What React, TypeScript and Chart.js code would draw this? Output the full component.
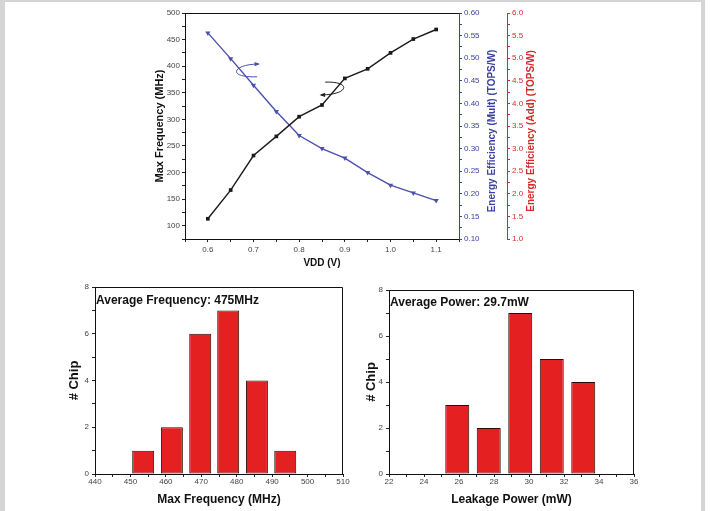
import React, { useEffect, useRef } from 'react';
import { Chart, registerables } from 'chart.js';

Chart.register(...registerables);

// ---------------- Data ----------------
const VDD = [0.6, 0.65, 0.7, 0.75, 0.8, 0.85, 0.9, 0.95, 1.0, 1.05, 1.1];
const MAX_FREQ = [113, 167, 232, 268, 305, 327, 377, 395, 425, 451, 469];
const EFF_MULT = [0.556, 0.499, 0.44, 0.382, 0.329, 0.3, 0.279, 0.247, 0.219, 0.202, 0.185];

const VDD_MAJORS = [0.6, 0.7, 0.8, 0.9, 1.0, 1.1];
const FREQ_MAJORS = [100, 150, 200, 250, 300, 350, 400, 450, 500];
const MULT_MAJORS = [0.1, 0.15, 0.2, 0.25, 0.3, 0.35, 0.4, 0.45, 0.5, 0.55, 0.6];
const ADD_MAJORS = [1.0, 1.5, 2.0, 2.5, 3.0, 3.5, 4.0, 4.5, 5.0, 5.5, 6.0];

const FREQ_BIN_CENTERS = [453.6, 461.7, 469.7, 477.6, 485.7, 493.7];
const FREQ_COUNTS = [1, 2, 6, 7, 4, 1];
const FREQ_BAR_WIDTH = 6.2;
const FREQ_X_MAJORS = [440, 450, 460, 470, 480, 490, 500, 510];

const POWER_BIN_CENTERS = [25.9, 27.7, 29.5, 31.3, 33.1];
const POWER_COUNTS = [3, 2, 7, 5, 4];
const POWER_BAR_WIDTH = 1.37;
const POWER_X_MAJORS = [22, 24, 26, 28, 30, 32, 34, 36];

const CHIP_Y_MAJORS = [0, 2, 4, 6, 8];

const FREQ_NOTE = 'Average Frequency: 475MHz';
const POWER_NOTE = 'Average Power: 29.7mW';

// decorative curly arrows (data units of the top chart: x = VDD, y = MHz)
const BLUE_ARROW = [[0.708, 380], [0.64, 378], [0.655, 404], [0.711, 404]];
const BLACK_ARROW = [[0.857, 370], [0.915, 372], [0.91, 346], [0.848, 346]];

// ---------------- Helpers ----------------
const FONT = '"Liberation Sans", Arial, Helvetica, sans-serif';
const TICK_COLOR = '#444';
const BLUE = '#3d42a0';
const BLUE_LINE = '#4b50ad';
const RED = '#d42a2a';

function withMinors(majors: number[], before = false, after = false) {
  const step = majors[1] - majors[0];
  const out: number[] = [];
  if (before) out.push(majors[0] - step / 2);
  majors.forEach((v, i) => {
    out.push(v);
    if (i < majors.length - 1) out.push(v + step / 2);
  });
  if (after) out.push(majors[majors.length - 1] + step / 2);
  return out.map((v) => Math.round(v * 1e6) / 1e6);
}
const isMajor = (majors: number[], v: number) => majors.some((m) => Math.abs(m - v) < 1e-6);
const fixedTicks = (values: number[]) => (scale: any) => {
  scale.ticks = values.map((v) => ({ value: v }));
};

const tickFont = (size = 8) => ({ family: FONT, size });
const boldFont = (size: number) => ({ family: FONT, size, weight: 'bold' as const });

// ---------------- Plugins ----------------
const topDecor = {
  id: 'topDecor',
  afterDraw(chart: any) {
    const { ctx, chartArea } = chart;
    const { left, right, top } = chartArea;
    const sx = chart.scales.x;
    const sy = chart.scales.y;
    ctx.save();
    // top frame line
    ctx.strokeStyle = '#111';
    ctx.lineWidth = 1;
    ctx.beginPath();
    ctx.moveTo(left, top + 0.5);
    ctx.lineTo(right, top + 0.5);
    ctx.stroke();

    // curly arrows
    const drawArrow = (pts: number[][], color: string) => {
      const p = pts.map(([x, y]) => [sx.getPixelForValue(x), sy.getPixelForValue(y)]);
      ctx.strokeStyle = color;
      ctx.fillStyle = color;
      ctx.lineWidth = 1;
      ctx.beginPath();
      ctx.moveTo(p[0][0], p[0][1]);
      ctx.bezierCurveTo(p[1][0], p[1][1], p[2][0], p[2][1], p[3][0], p[3][1]);
      ctx.stroke();
      const ang = Math.atan2(p[3][1] - p[2][1], p[3][0] - p[2][0]);
      const L = 4.5;
      ctx.beginPath();
      ctx.moveTo(p[3][0] + Math.cos(ang) * 1.5, p[3][1] + Math.sin(ang) * 1.5);
      ctx.lineTo(p[3][0] - Math.cos(ang - 0.5) * L, p[3][1] - Math.sin(ang - 0.5) * L);
      ctx.lineTo(p[3][0] - Math.cos(ang + 0.5) * L, p[3][1] - Math.sin(ang + 0.5) * L);
      ctx.closePath();
      ctx.fill();
    };
    drawArrow(BLUE_ARROW, BLUE_LINE);
    drawArrow(BLACK_ARROW, '#222');

    // right-axis titles reading bottom-to-top
    const midY = (chartArea.top + chartArea.bottom) / 2 + 5;
    const drawTitle = (text: string, x: number, color: string) => {
      ctx.save();
      ctx.translate(x, midY);
      ctx.rotate(-Math.PI / 2);
      ctx.fillStyle = color;
      ctx.font = `bold 10px ${FONT}`;
      ctx.textAlign = 'center';
      ctx.textBaseline = 'middle';
      ctx.fillText(text, 0, 0);
      ctx.restore();
    };
    drawTitle('Energy Efficiency (Mult) (TOPS/W)', chart.scales.y1.left + 33.3, BLUE);
    drawTitle('Energy Efficiency (Add) (TOPS/W)', chart.scales.y2.left + 24.7, RED);
    ctx.restore();
  },
};

const histDecor = {
  id: 'histDecor',
  afterDraw(chart: any, _args: any, opts: any) {
    const { ctx, chartArea } = chart;
    const { left, right, top, bottom } = chartArea;
    ctx.save();
    ctx.strokeStyle = '#111';
    ctx.lineWidth = 1;
    ctx.beginPath();
    ctx.moveTo(left, top + 0.5);
    ctx.lineTo(right - 0.5, top + 0.5);
    ctx.lineTo(right - 0.5, bottom);
    ctx.stroke();
    ctx.fillStyle = '#111';
    ctx.font = `bold 12px ${FONT}`;
    ctx.textAlign = 'left';
    ctx.textBaseline = 'middle';
    ctx.fillText(opts.text, left + 1, top + opts.dy);
    ctx.restore();
  },
};

// ---------------- Configs ----------------
function topConfig(): any {
  return {
    type: 'line',
    data: {
      datasets: [
        {
          data: VDD.map((x, i) => ({ x, y: MAX_FREQ[i] })),
          xAxisID: 'x',
          yAxisID: 'y',
          borderColor: '#1a1a1a',
          backgroundColor: '#1a1a1a',
          borderWidth: 1.4,
          pointStyle: 'rect',
          pointRadius: 2.6,
          pointBorderWidth: 0,
        },
        {
          data: VDD.map((x, i) => ({ x, y: EFF_MULT[i] })),
          xAxisID: 'x',
          yAxisID: 'y1',
          borderColor: BLUE_LINE,
          backgroundColor: BLUE_LINE,
          borderWidth: 1.4,
          pointStyle: 'triangle',
          pointRotation: 180,
          pointRadius: 3,
          pointBorderWidth: 0,
        },
      ],
    },
    options: {
      animation: false,
      responsive: false,
      devicePixelRatio: 1,
      layout: { padding: { top: 13, left: 0, right: 0, bottom: 0 } },
      plugins: { legend: { display: false }, tooltip: { enabled: false } },
      scales: {
        x: {
          type: 'linear',
          min: 0.55,
          max: 1.15,
          afterBuildTicks: fixedTicks(withMinors(VDD_MAJORS, true, true)),
          afterFit: (s: any) => {
            s.height = 36;
          },
          ticks: {
            autoSkip: false,
            maxRotation: 0,
            padding: 3,
            color: TICK_COLOR,
            font: tickFont(8),
            callback: (v: number) => (isMajor(VDD_MAJORS, v) ? v.toFixed(1) : ''),
          },
          grid: { drawOnChartArea: false, tickLength: 3, color: '#222' },
          border: { color: '#111', width: 1 },
          title: {
            display: true,
            text: 'VDD (V)',
            color: '#111',
            font: boldFont(10),
            padding: { top: 0, bottom: 6 },
          },
        },
        y: {
          type: 'linear',
          position: 'left',
          min: 75,
          max: 500,
          afterBuildTicks: fixedTicks(withMinors(FREQ_MAJORS, true, false)),
          afterFit: (s: any) => {
            s.width = 37;
          },
          ticks: {
            autoSkip: false,
            padding: 2,
            color: TICK_COLOR,
            font: tickFont(8),
            callback: (v: number) => (isMajor(FREQ_MAJORS, v) ? String(v) : ''),
          },
          grid: { drawOnChartArea: false, tickLength: 3, color: '#222' },
          border: { color: '#111', width: 1 },
          title: {
            display: true,
            text: 'Max Frequency (MHz)',
            color: '#111',
            font: boldFont(11),
            padding: { top: 5, bottom: 0 },
          },
        },
        y1: {
          type: 'linear',
          position: 'right',
          weight: 0,
          min: 0.1,
          max: 0.6,
          afterBuildTicks: fixedTicks(withMinors(MULT_MAJORS)),
          afterFit: (s: any) => {
            s.width = 48;
          },
          ticks: {
            autoSkip: false,
            padding: 2,
            color: BLUE,
            font: tickFont(8),
            callback: (v: number) => (isMajor(MULT_MAJORS, v) ? v.toFixed(2) : ''),
          },
          grid: { drawOnChartArea: false, tickLength: 3, color: BLUE },
          border: { color: BLUE, width: 1 },
        },
        y2: {
          type: 'linear',
          position: 'right',
          weight: 1,
          display: true,
          min: 1,
          max: 6,
          afterBuildTicks: fixedTicks(withMinors(ADD_MAJORS)),
          afterFit: (s: any) => {
            s.width = 36;
          },
          ticks: {
            autoSkip: false,
            padding: 2,
            color: RED,
            font: tickFont(8),
            callback: (v: number) => (isMajor(ADD_MAJORS, v) ? v.toFixed(1) : ''),
          },
          grid: { drawOnChartArea: false, tickLength: 3, color: RED },
          border: { color: RED, width: 1 },
        },
      },
    },
    plugins: [topDecor],
  };
}

function histConfig(
  centers: number[],
  counts: number[],
  barWidth: number,
  xMajors: number[],
  xTitle: string,
  note: string,
  noteDy: number,
  padTop: number,
  yTitlePad: number,
): any {
  const xTicks = withMinors(xMajors);
  const minorStep = xTicks[1] - xTicks[0];
  return {
    type: 'bar',
    data: {
      datasets: [
        {
          data: centers.map((x, i) => ({ x, y: counts[i] })),
          backgroundColor: '#e52020',
          borderColor: '#2a0c0c',
          borderWidth: 1,
          borderSkipped: false,
          categoryPercentage: 1,
          barPercentage: barWidth / minorStep,
        },
      ],
    },
    options: {
      animation: false,
      responsive: false,
      devicePixelRatio: 1,
      layout: { padding: { top: padTop, left: 0, right: 8, bottom: 0 } },
      plugins: {
        legend: { display: false },
        tooltip: { enabled: false },
        histDecor: { text: note, dy: noteDy },
      },
      scales: {
        x: {
          type: 'linear',
          min: xMajors[0],
          max: xMajors[xMajors.length - 1],
          offset: false,
          afterBuildTicks: fixedTicks(xTicks),
          afterFit: (s: any) => {
            s.height = 37;
          },
          ticks: {
            autoSkip: false,
            maxRotation: 0,
            padding: 0,
            color: TICK_COLOR,
            font: tickFont(8),
            callback: (v: number) => (isMajor(xMajors, v) ? String(v) : ''),
          },
          grid: { offset: false, drawOnChartArea: false, tickLength: 3, color: '#222' },
          border: { color: '#111', width: 1 },
          title: {
            display: true,
            text: xTitle,
            color: '#111',
            font: boldFont(12),
            padding: { top: 0, bottom: 4 },
          },
        },
        y: {
          type: 'linear',
          min: 0,
          max: 8,
          afterBuildTicks: fixedTicks(withMinors(CHIP_Y_MAJORS)),
          afterFit: (s: any) => {
            s.width = 31;
          },
          ticks: {
            autoSkip: false,
            padding: 3,
            color: TICK_COLOR,
            font: tickFont(8),
            callback: (v: number) => (isMajor(CHIP_Y_MAJORS, v) ? String(v) : ''),
          },
          grid: { drawOnChartArea: false, tickLength: 3, color: '#222' },
          border: { color: '#111', width: 1 },
          title: {
            display: true,
            text: '# Chip',
            color: '#111',
            font: boldFont(13),
            padding: { top: yTitlePad, bottom: 0 },
          },
        },
      },
    },
    plugins: [histDecor],
  };
}

// ---------------- Components ----------------
function ChartBox({
  make,
  left,
  top,
  width,
  height,
}: {
  make: () => any;
  left: number;
  top: number;
  width: number;
  height: number;
}) {
  const ref = useRef<HTMLCanvasElement | null>(null);
  useEffect(() => {
    if (!ref.current) return;
    const chart = new Chart(ref.current, make());
    return () => chart.destroy();
  }, []);
  return (
    <canvas
      ref={ref}
      width={width}
      height={height}
      style={{ position: 'absolute', left, top, width, height, display: 'block' }}
    />
  );
}

export default function App() {
  return (
    <div
      style={{
        position: 'fixed',
        left: 0,
        top: 0,
        width: 710,
        height: 511,
        background: '#ffffff',
        overflow: 'hidden',
      }}
    >
      <div style={{ position: 'absolute', left: 0, top: 0, width: 705, height: 2, background: '#d5d5d5' }} />
      <div style={{ position: 'absolute', left: 0, top: 0, width: 5, height: 511, background: '#d5d5d5' }} />
      <div style={{ position: 'absolute', left: 701, top: 0, width: 4, height: 511, background: '#d5d5d5' }} />
      <ChartBox make={topConfig} left={148} top={0} width={395} height={275} />
      <ChartBox
        make={() =>
          histConfig(
            FREQ_BIN_CENTERS,
            FREQ_COUNTS,
            FREQ_BAR_WIDTH,
            FREQ_X_MAJORS,
            'Max Frequency (MHz)',
            FREQ_NOTE,
            13.5,
            9,
            3,
          )
        }
        left={64}
        top={278}
        width={287}
        height={233}
      />
      <ChartBox
        make={() =>
          histConfig(
            POWER_BIN_CENTERS,
            POWER_COUNTS,
            POWER_BAR_WIDTH,
            POWER_X_MAJORS,
            'Leakage Power (mW)',
            POWER_NOTE,
            12.5,
            12,
            6,
          )
        }
        left={358}
        top={278}
        width={284}
        height={233}
      />
    </div>
  );
}
